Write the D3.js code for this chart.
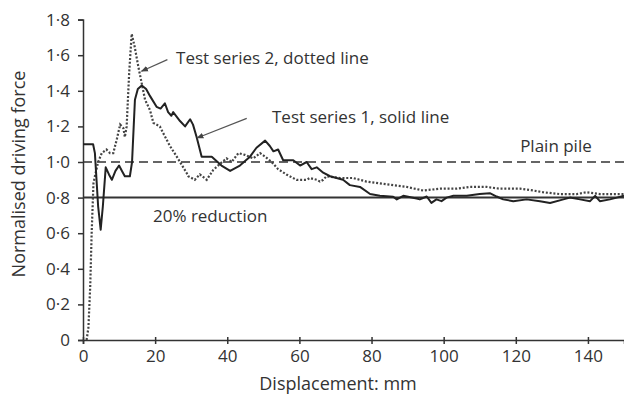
<!DOCTYPE html>
<html>
<head>
<meta charset="utf-8">
<script src="https://cdn.jsdelivr.net/npm/d3@7"></script>
<style>
  body { margin: 0; background: #fff; }
  svg text { font-family: "Open Sans", sans-serif; fill: #333; }
</style>
</head>
<body>
<svg width="624" height="400"></svg>
<script>
// серия 1 (сплошная линия): [перемещение, мм ; нормированное усилие]
const series1 = [
  [0, 1.1], [2.8, 1.1], [3.3, 1.05], [4.2, 0.75], [4.9, 0.62], [5.5, 0.75], [6.3, 0.97],
  [7.2, 0.93], [8, 0.9], [9, 0.95], [10, 0.98], [10.8, 0.95], [11.6, 0.92], [13, 0.92],
  [13.6, 1.0], [14.4, 1.35], [15.2, 1.41], [16.3, 1.43], [17.5, 1.41], [18.6, 1.37],
  [20.4, 1.31], [21.5, 1.3], [22.7, 1.33], [23.6, 1.28], [24.5, 1.26], [25, 1.28],
  [26.9, 1.23], [28.3, 1.2], [29.7, 1.24], [30.5, 1.21], [31.5, 1.14], [32.9, 1.03],
  [35.7, 1.03], [38.4, 0.98], [40.8, 0.95], [43.5, 0.98], [46.3, 1.03], [48.1, 1.08],
  [50.5, 1.12], [51.8, 1.09], [52.8, 1.06], [54.1, 1.07], [55.5, 1.01], [58.3, 1.01],
  [60.2, 0.98], [62, 1.0], [63.4, 0.96], [64.8, 0.97], [66.6, 0.94], [68.5, 0.92],
  [70.3, 0.91], [72.1, 0.9], [74, 0.87], [76.8, 0.86], [79.6, 0.82], [82.3, 0.81],
  [86, 0.805], [87, 0.79], [88.8, 0.81], [92.5, 0.795], [93.4, 0.79], [95.3, 0.806],
  [96.6, 0.77], [98, 0.79], [99.4, 0.78], [100.8, 0.8], [102.7, 0.81], [106.4, 0.81],
  [110, 0.82], [112.8, 0.825], [114.7, 0.806], [116.5, 0.79], [119.3, 0.78], [123, 0.79],
  [126.7, 0.78], [129.5, 0.77], [133.2, 0.79], [135, 0.8], [137.8, 0.79], [140.6, 0.78],
  [142, 0.81], [143.3, 0.78], [146.1, 0.79], [148, 0.8], [150, 0.81]
];

// серия 2 (пунктир)
const series2 = [
  [1.0, 0], [1.5, 0.07], [2.0, 0.3], [2.4, 0.6], [2.9, 0.88], [3.3, 0.92], [4.2, 1.0],
  [5.2, 1.05], [6.5, 1.07], [7.5, 1.05], [8.4, 1.05], [9.4, 1.13], [10.3, 1.21],
  [11.2, 1.19], [11.6, 1.14], [12.1, 1.2], [12.8, 1.5], [13.5, 1.72], [14.3, 1.65],
  [15.3, 1.54], [16.2, 1.45], [17.2, 1.35], [18.6, 1.29], [19.5, 1.22], [21.3, 1.2],
  [22.3, 1.16], [24.1, 1.09], [26, 1.03], [26.9, 1.0], [28.7, 0.94], [29.2, 0.92],
  [31, 0.9], [32.4, 0.93], [34.3, 0.9], [36.1, 0.955], [38, 0.99], [39.8, 1.02],
  [41.2, 1.0], [43.1, 1.05], [44.9, 1.04], [47.2, 1.02], [49.1, 1.05], [50.5, 1.03],
  [52.3, 1.0], [54.1, 0.96], [56.4, 0.93], [59.2, 0.9], [62, 0.9], [62.9, 0.91],
  [64.8, 0.9], [65.7, 0.89], [66.6, 0.9], [67.5, 0.92], [71.3, 0.91], [74.9, 0.91],
  [78.6, 0.89], [82.3, 0.88], [86, 0.87], [89.7, 0.86], [94.3, 0.84], [99, 0.85],
  [103.6, 0.85], [107.3, 0.86], [111.9, 0.86], [115.6, 0.85], [121.2, 0.85],
  [124.8, 0.84], [127.6, 0.83], [132.2, 0.82], [136.9, 0.82], [139.6, 0.83],
  [143.3, 0.82], [147, 0.82], [150, 0.82]
];

const xTicks = [0, 20, 40, 60, 80, 100, 120, 140];
const yTicks = [0, 0.2, 0.4, 0.6, 0.8, 1.0, 1.2, 1.4, 1.6, 1.8];
const plainPile = 1.0;      // уровень "Plain pile"
const reduction = 0.8;      // уровень "20% reduction"

const svg = d3.select("svg");
const margin = {top: 19.6, right: 0, bottom: 60, left: 83};
const width = +svg.attr("width");
const height = +svg.attr("height");

const x = d3.scaleLinear().domain([0, 150]).range([margin.left, width - margin.right]);
const y = d3.scaleLinear().domain([0, 1.8]).range([height - margin.bottom, margin.top]);

const fmt = d => d === 0 ? "0" : d3.format(".1f")(d).replace(".", "·");

// оси
const gx = svg.append("g").attr("transform", `translate(0,${y(0)})`)
  .call(d3.axisBottom(x).tickValues(xTicks).tickSize(4).tickPadding(5).tickFormat(d3.format("d")));
gx.select(".domain").attr("stroke", "#333").attr("stroke-width", 1.5);
gx.selectAll(".tick line").attr("stroke", "#333").attr("stroke-width", 1.5).attr("y1", -3);
gx.selectAll(".tick text").attr("font-size", 17).attr("dy", "0.75em");

const gy = svg.append("g").attr("transform", `translate(${x(0)},0)`)
  .call(d3.axisLeft(y).tickValues(yTicks).tickSize(5).tickPadding(8).tickFormat(fmt));
gy.select(".domain").attr("stroke", "#333").attr("stroke-width", 1.5);
gy.selectAll(".tick line").attr("stroke", "#333").attr("stroke-width", 1.5);
gy.selectAll(".tick text").attr("font-size", 17);
svg.selectAll(".domain").attr("d", function() {
  return d3.select(this).attr("d");
});

// опорные линии
svg.append("line")
  .attr("x1", x(0)).attr("x2", x(150))
  .attr("y1", y(plainPile)).attr("y2", y(plainPile))
  .attr("stroke", "#333").attr("stroke-width", 1.6).attr("stroke-dasharray", "9,5");
svg.append("line")
  .attr("x1", x(0)).attr("x2", x(150))
  .attr("y1", y(reduction)).attr("y2", y(reduction))
  .attr("stroke", "#333").attr("stroke-width", 2);

const line = d3.line().x(d => x(d[0])).y(d => y(d[1]));

svg.append("path").attr("d", line(series2))
  .attr("fill", "none").attr("stroke", "#444").attr("stroke-width", 2.2)
  .attr("stroke-dasharray", "2,1.8");
svg.append("path").attr("d", line(series1))
  .attr("fill", "none").attr("stroke", "#222").attr("stroke-width", 2)
  .attr("stroke-linejoin", "round");

// стрелки-выноски
svg.append("defs").append("marker")
  .attr("id", "arr").attr("viewBox", "0 0 10 10").attr("refX", 9).attr("refY", 5)
  .attr("markerWidth", 6).attr("markerHeight", 6).attr("orient", "auto")
  .append("path").attr("d", "M0,1L10,5L0,9Z").attr("fill", "#444");

const leader = (x1, y1, x2, y2) => svg.append("line")
  .attr("x1", x(x1)).attr("y1", y(y1)).attr("x2", x(x2)).attr("y2", y(y2))
  .attr("stroke", "#555").attr("stroke-width", 1.2).attr("marker-end", "url(#arr)");
leader(23.4, 1.575, 16.2, 1.51);
leader(45.4, 1.245, 31.6, 1.135);

const label = (txt, mx, v) => svg.append("text")
  .attr("x", x(mx)).attr("y", y(v)).attr("font-size", 17).text(txt);
label("Test series 2, dotted line", 25.8, 1.553);
label("Test series 1, solid line", 52.4, 1.22);
label("Plain pile", 121.2, 1.058);
label("20% reduction", 19.4, 0.663);

// подписи осей
svg.append("text").attr("x", 338).attr("y", 390).attr("text-anchor", "middle")
  .attr("font-size", 18).text("Displacement: mm");
svg.append("text").attr("transform", "translate(25,174) rotate(-90)")
  .attr("text-anchor", "middle").attr("font-size", 18).text("Normalised driving force");
</script>
</body>
</html>
